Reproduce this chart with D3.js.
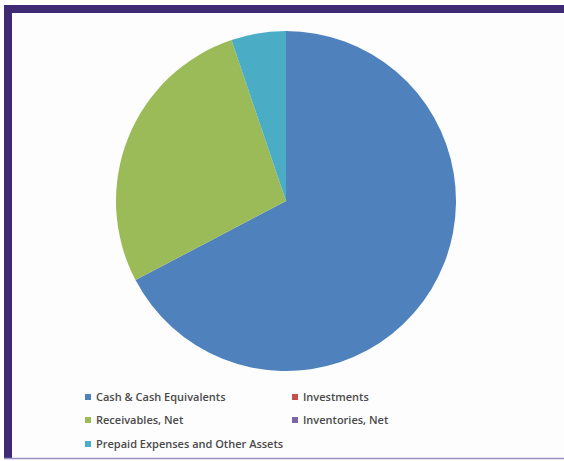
<!DOCTYPE html>
<html lang="en">
<head>
    <meta charset="UTF-8"/>
    <title>Current assets pie</title>
    <style>
        body { margin: 0; background: #fff; }
    </style>
</head>
<body>
<svg id="chart" width="564" height="461"></svg>

<script src="https://d3js.org/d3.v7.min.js"></script>
<script type="text/javascript">

    // slice data (percent of total current assets)
    var categories = ["Cash & Cash Equivalents", "Investments", "Receivables, Net", "Inventories, Net", "Prepaid Expenses and Other Assets"];
    var values = [67.3, 0, 27.5, 0, 5.2];
    var colors = ["#4f81bd", "#c0504d", "#9bbb59", "#8064a2", "#4bacc6"];

    let svg = d3.select("#chart"),
        width = +svg.attr("width"),
        height = +svg.attr("height");

    // purple frame
    svg.append("rect")
        .attr("x", 8).attr("y", 9)
        .attr("width", width).attr("height", 449)
        .attr("fill", "#fdfdfd");
    svg.append("rect")
        .attr("x", 4).attr("y", 5)
        .attr("width", width - 4).attr("height", 8)
        .attr("fill", "#3f2b74");
    svg.append("rect")
        .attr("x", 4).attr("y", 5)
        .attr("width", 8).attr("height", 454)
        .attr("fill", "#3f2b74");
    svg.append("line")
        .attr("x1", 4).attr("x2", width)
        .attr("y1", 458.5).attr("y2", 458.5)
        .attr("stroke", "#9b90c2")
        .attr("stroke-width", 1.5);

    var cx = 286, cy = 201, radius = 170;

    var pie = d3.pie().sort(null).value(function (d) { return d; });
    var arc = d3.arc().innerRadius(0).outerRadius(radius);

    var g = svg.append("g").attr("transform", "translate(" + cx + "," + cy + ")");
    g.selectAll("path")
        .data(pie(values))
        .enter().append("path")
        .attr("d", arc)
        .attr("fill", function (d, i) { return colors[i]; });

    // legend, two columns
    var legendPos = [[85, 397], [292, 397], [85, 420], [292, 420], [85, 444]];
    var legend = svg.append("g").selectAll("g")
        .data(categories)
        .enter().append("g")
        .attr("transform", function (d, i) { return "translate(" + legendPos[i][0] + "," + legendPos[i][1] + ")"; });

    legend.append("rect")
        .attr("x", 0).attr("y", -3)
        .attr("width", 6).attr("height", 6)
        .attr("fill", function (d, i) { return colors[i]; });

    legend.append("text")
        .attr("x", 11).attr("y", 0)
        .attr("dy", "0.35em")
        .style("font-family", "'Open Sans', sans-serif")
        .style("font-size", "11px")
        .style("font-weight", "600")
        .style("fill", "#4a4a4a")
        .text(function (d) { return d; });

</script>
</body>
</html>
